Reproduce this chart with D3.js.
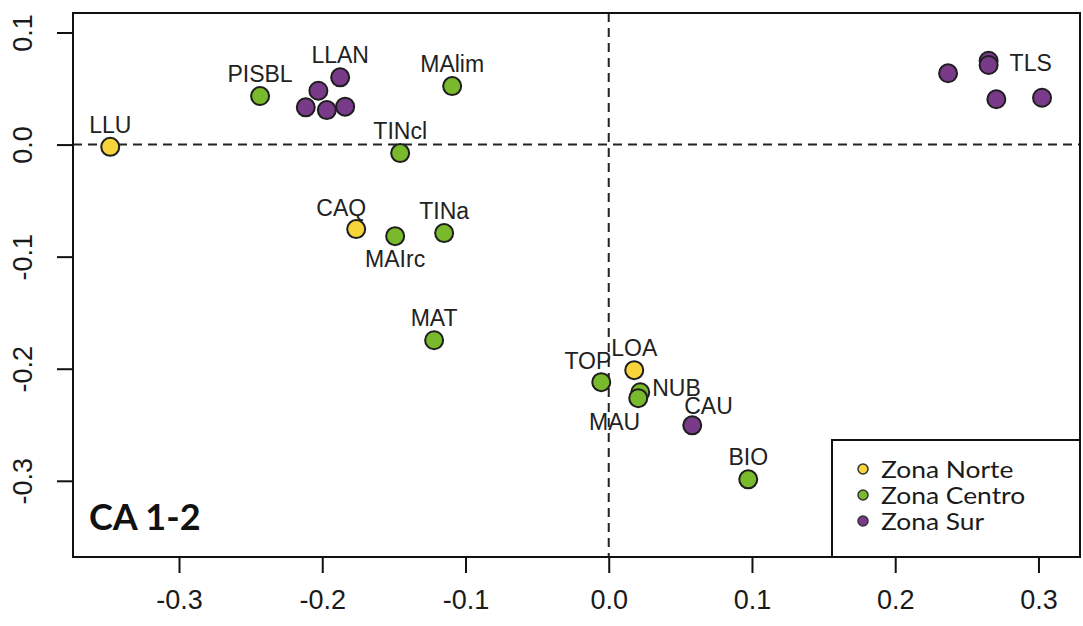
<!DOCTYPE html>
<meta charset="utf-8">
<title>CA 1-2</title>
<style>
body { margin: 0; background: #fff; }
svg { display: block; }
.tick-label { font: 27px "Liberation Sans", Arial, sans-serif; fill: #1a1a1a; }
.pt-label { font: 23px "Liberation Sans", Arial, sans-serif; fill: #222; }
.legend-label { font: 24px Lato, "Open Sans", sans-serif; fill: #1a1a1a; }
.panel-title { font: bold 36px Lato, "Open Sans", sans-serif; fill: #111; }
</style>
<body>
<svg width="1083" height="626"></svg>
<script src="https://d3js.org/d3.v7.min.js"></script>
<script>
// CA scores, dimension 1 and 2
var names = ["LLU", "PISBL", "", "", "", "", "LLAN", "MAlim", "TINcl", "CAQ", "MAIrc", "TINa", "MAT",
             "TOP", "LOA", "NUB", "MAU", "CAU", "BIO", "", "", "TLS", "", ""];
var dim1 = [-0.348, -0.2434, -0.2027, -0.2115, -0.1968, -0.184, -0.1875, -0.1093, -0.1456, -0.1763, -0.1491, -0.1149, -0.1219,
            -0.0052, 0.0178, 0.022, 0.0206, 0.0583, 0.0974, 0.2369, 0.2652, 0.2652, 0.2706, 0.3025];
var dim2 = [-0.002, 0.0433, 0.048, 0.0332, 0.0308, 0.0338, 0.060, 0.0522, -0.0076, -0.0754, -0.0817, -0.079, -0.1746,
            -0.212, -0.2013, -0.221, -0.2263, -0.2505, -0.2987, 0.0636, 0.0748, 0.071, 0.0404, 0.0418];
var zone = ["N", "C", "S", "S", "S", "S", "S", "C", "C", "N", "C", "C", "C",
            "C", "N", "C", "C", "S", "C", "S", "S", "S", "S", "S"];
// where the label sits around its point (like R's pos)
var labelPos = ["n", "n", "", "", "", "", "n", "n", "n", "nw", "s", "n", "n",
                "nw", "n", "e", "sw", "ne", "n", "", "", "ee", "", ""];

var zoneKeys = ["N", "C", "S"];
var zoneNames = ["Zona Norte", "Zona Centro", "Zona Sur"];
var zoneColors = ["#f7d53a", "#79b92c", "#7a3a8a"];

var xTicks = [-0.3, -0.2, -0.1, 0.0, 0.1, 0.2, 0.3];
var yTicks = [-0.3, -0.2, -0.1, 0.0, 0.1];

var svg = d3.select("svg");
var plotL = 73, plotR = 1080, plotT = 13, plotB = 557;

var x = d3.scaleLinear().domain([-0.374, 0.329]).range([plotL, plotR]);
var y = d3.scaleLinear().domain([-0.368, 0.1174]).range([plotB, plotT]);
var color = d3.scaleOrdinal().domain(zoneKeys).range(zoneColors);
var fmt = function(d) { return d.toFixed(1); };   // plain hyphen like R

var pts = names.map(function(n, i) {
  return {name: n, x: dim1[i], y: dim2[i], zone: zone[i], pos: labelPos[i]};
});

// reference lines at zero
svg.append("line")
    .attr("x1", plotL).attr("x2", plotR)
    .attr("y1", y(0)).attr("y2", y(0))
    .attr("stroke", "#222").attr("stroke-width", 2).attr("stroke-dasharray", "9,6");
svg.append("line")
    .attr("x1", x(0)).attr("x2", x(0))
    .attr("y1", plotT).attr("y2", plotB)
    .attr("stroke", "#222").attr("stroke-width", 2).attr("stroke-dasharray", "9,6");

// axes
var xAxis = svg.append("g")
    .attr("transform", "translate(0," + plotB + ")")
    .call(d3.axisBottom(x).tickValues(xTicks).tickFormat(fmt).tickSize(16).tickPadding(17));
var yAxis = svg.append("g")
    .attr("transform", "translate(" + plotL + ",0)")
    .call(d3.axisLeft(y).tickValues(yTicks).tickFormat(fmt).tickSize(16));
[xAxis, yAxis].forEach(function(a) {
  a.select(".domain").remove();
  a.attr("font-size", null).attr("font-family", null);
  a.selectAll(".tick line").attr("stroke", "#111").attr("stroke-width", 2);
  a.selectAll("text").attr("class", "tick-label");
});
xAxis.selectAll("text").attr("dy", "0.71em");
yAxis.selectAll("text")
    .attr("text-anchor", "middle")
    .attr("x", 0).attr("y", 0).attr("dy", 0)
    .attr("dominant-baseline", "central")
    .attr("transform", "translate(-50,0) rotate(-90)");

// frame
svg.append("rect")
    .attr("x", plotL).attr("y", plotT)
    .attr("width", plotR - plotL).attr("height", plotB - plotT)
    .attr("fill", "none").attr("stroke", "#111").attr("stroke-width", 2);

// points
svg.append("g").selectAll("circle")
  .data(pts)
  .join("circle")
    .attr("cx", function(d) { return x(d.x); })
    .attr("cy", function(d) { return y(d.y); })
    .attr("r", 9)
    .attr("fill", function(d) { return color(d.zone); })
    .attr("stroke", "#1e1e1e")
    .attr("stroke-width", 2);

// point labels
var place = {
  n:  {dx: 0,  dy: -14, anchor: "middle"},
  s:  {dx: 0,  dy: 31,  anchor: "middle"},
  e:  {dx: 12, dy: 4,   anchor: "start"},
  ee: {dx: 21, dy: 6,   anchor: "start"},
  nw: {dx: 10, dy: -13, anchor: "end"},
  sw: {dx: 2,  dy: 32,  anchor: "end"},
  ne: {dx: -8, dy: -11, anchor: "start"}
};
svg.append("g").selectAll("text")
  .data(pts.filter(function(d) { return d.name; }))
  .join("text")
    .attr("class", "pt-label")
    .attr("x", function(d) { return x(d.x) + place[d.pos].dx; })
    .attr("y", function(d) { return y(d.y) + place[d.pos].dy; })
    .attr("text-anchor", function(d) { return place[d.pos].anchor; })
    .text(function(d) { return d.name; });

// legend
var lg = svg.append("g");
lg.append("rect")
    .attr("x", 832).attr("y", 440)
    .attr("width", plotR - 832).attr("height", plotB - 440)
    .attr("fill", "#fff").attr("stroke", "#111").attr("stroke-width", 2);
var item = lg.selectAll("g.item")
  .data(zoneKeys)
  .join("g")
    .attr("class", "item")
    .attr("transform", function(d, i) { return "translate(863," + (469 + i * 26) + ")"; });
item.append("circle")
    .attr("r", 5)
    .attr("fill", function(d) { return color(d); })
    .attr("stroke", "#333").attr("stroke-width", 1.5);
item.append("text")
    .attr("class", "legend-label")
    .attr("dy", "0.36em")
    .attr("transform", "translate(18,0) scale(1.1,1)")
    .text(function(d, i) { return zoneNames[i]; });

// panel title
svg.append("text")
    .attr("class", "panel-title")
    .attr("x", 89).attr("y", 530)
    .text("CA 1-2");
</script>
</body>
